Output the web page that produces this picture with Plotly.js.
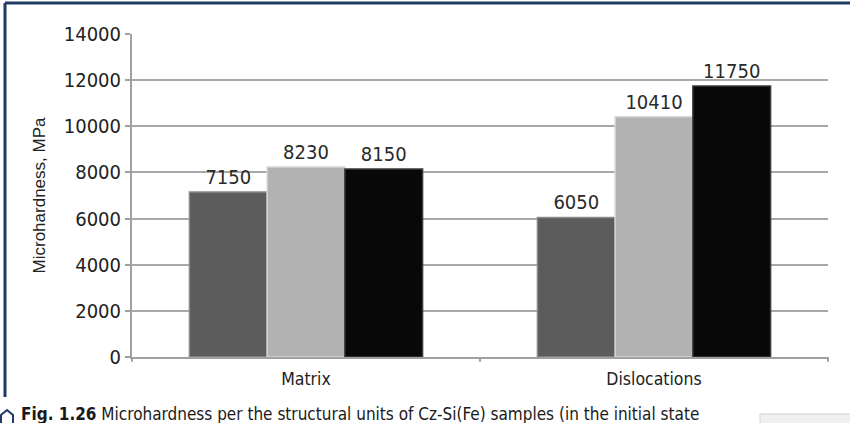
<!DOCTYPE html>
<html>
<head>
<meta charset="utf-8">
<script src="https://cdn.plot.ly/plotly-3.0.1.min.js"></script>
<style>
html,body{margin:0;padding:0;background:#fff;}
#chart{width:850px;height:423px;}
</style>
</head>
<body>
<div id="chart"></div>
<script>
const categories = ["Matrix", "Dislocations"];
const series1 = [7150, 6050];
const series2 = [8230, 10410];
const series3 = [8150, 11750];
const yTicks = [0, 2000, 4000, 6000, 8000, 10000, 12000, 14000];

const condFont = '"DejaVu Sans Condensed", "Liberation Sans Narrow", sans-serif';

function bar(vals, color, edge) {
  return {
    type: 'bar', x: categories, y: vals,
    marker: {color: color, line: {color: edge, width: 1.5}},
    text: vals.map(String), textposition: 'outside', cliponaxis: false,
    textfont: {family: condFont, size: 20, color: '#2a2a2a'},
    hoverinfo: 'none'
  };
}

const data = [
  bar(series1, '#5c5c5c', '#8a8a8a'),
  bar(series2, '#b2b2b2', '#d6d6d6'),
  bar(series3, '#080808', '#3a3a3a')
];

const layout = {
  width: 850, height: 423,
  margin: {l: 132, r: 22, t: 34, b: 66},
  paper_bgcolor: '#fff', plot_bgcolor: '#fff',
  showlegend: false,
  barmode: 'group', bargap: 0.33, bargroupgap: 0,
  font: {family: condFont, color: '#222'},
  xaxis: {
    type: 'category',
    showline: true, linecolor: '#a0a0a0', linewidth: 2,
    ticks: '', tickfont: {family: condFont, size: 17.5, color: '#222'},
    ticklabelstandoff: 5,
    showgrid: false, zeroline: false, fixedrange: true
  },
  yaxis: {
    range: [0, 14000], tickvals: yTicks, ticktext: yTicks.map(String),
    showline: true, linecolor: '#a0a0a0', linewidth: 2,
    ticks: 'outside', ticklen: 5, tickcolor: '#a0a0a0', tickwidth: 2,
    gridcolor: '#a8a8a8', gridwidth: 2, zeroline: false,
    tickfont: {family: condFont, size: 20, color: '#222'},
    title: {text: 'Microhardness, MPa', font: {family: '"Liberation Sans", Arial, sans-serif', size: 17, color: '#222'}, standoff: 14},
    fixedrange: true
  },
  shapes: [
    {type: 'line', xref: 'paper', yref: 'paper', x0: 1, x1: 1, y0: 0, y1: -0.015, line: {color: '#a0a0a0', width: 2}},
    {type: 'line', xref: 'paper', yref: 'paper', x0: 0.5, x1: 0.5, y0: 0, y1: -0.015, line: {color: '#a0a0a0', width: 2}},
    {type: 'line', xref: 'paper', yref: 'paper', x0: 0, x1: 0, y0: 0, y1: -0.015, line: {color: '#a0a0a0', width: 2}},
    {type: 'line', xref: 'paper', yref: 'paper', x0: -127/696, x1: 850/696, y0: 1 + 31/323, y1: 1 + 31/323, line: {color: '#1f3a63', width: 3}},
    {type: 'line', xref: 'paper', yref: 'paper', x0: -127/696, x1: -127/696, y0: 1 + 31/323, y1: -40/323, line: {color: '#1f3a63', width: 3}},
    {type: 'path', xref: 'paper', yref: 'paper',
     path: 'M ' + (-131/696) + ' ' + (-68/323) + ' L ' + (-131/696) + ' ' + (-58/323) + ' L ' + (-125/696) + ' ' + (-53/323) + ' L ' + (-119/696) + ' ' + (-58/323) + ' L ' + (-119/696) + ' ' + (-68/323),
     line: {color: '#1f3a63', width: 2}},
    {type: 'rect', xref: 'paper', yref: 'paper', x0: 628/696, x1: 720/696, y0: -57/323, y1: -70/323, fillcolor: '#f0f0f0', line: {color: '#d0d0d0', width: 1}}
  ],
  annotations: [
    {xref: 'paper', yref: 'paper', x: -113/696, y: -57/323, xanchor: 'left', yanchor: 'middle', showarrow: false,
     text: '<b>Fig. 1.26</b> Microhardness per the structural units of Cz-Si(Fe) samples (in the initial state',
     font: {family: condFont, size: 17, color: '#1a1a1a'}}
  ]
};

Plotly.newPlot('chart', data, layout, {displayModeBar: false, staticPlot: true});
</script>
</body>
</html>
